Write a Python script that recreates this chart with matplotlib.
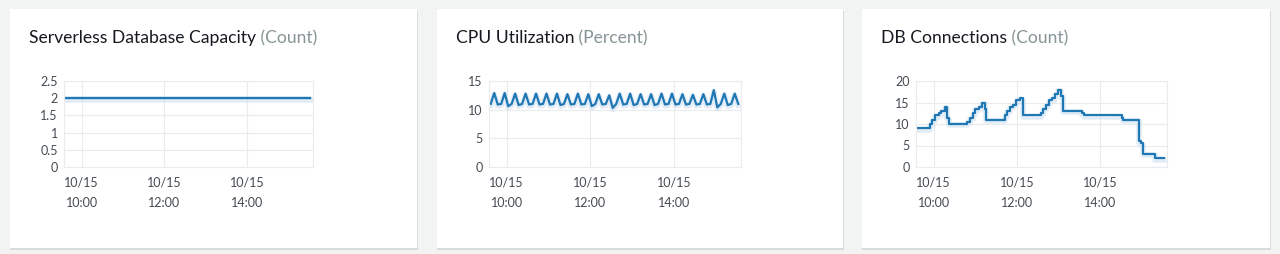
import matplotlib
matplotlib.use('Agg')
import matplotlib.pyplot as plt
import matplotlib.patheffects as pe
from matplotlib.patches import Rectangle
import pandas as pd

W, H = 1280, 254
DAY = '2020-10-15 '

# Serverless Database Capacity (Count)
capacity_times = ['09:38', '10:30', '11:30', '12:30', '13:30', '14:30', '15:32']
capacity_values = [2, 2, 2, 2, 2, 2, 2]

# CPU Utilization (Percent), 5-minute samples from 09:37
cpu_start = '09:37'
cpu_values = [
    11.0, 12.9, 10.9,  11.0, 12.9, 10.6,  11.0, 12.8, 10.8,  11.0, 12.8, 10.9,
    11.0, 12.8, 10.9,  11.0, 12.8, 10.9,  11.0, 12.8, 10.8,  11.0, 12.7, 10.9,
    11.0, 12.8, 10.9,  11.0, 12.7, 10.6,  11.0, 12.7, 10.9,  11.0, 12.5, 10.3,
    11.0, 12.8, 10.9,  11.0, 12.8, 10.8,  11.0, 12.7, 10.9,  11.0, 12.7, 10.8,
    11.0, 12.8, 10.9,  11.0, 12.8, 10.9,  11.0, 12.7, 10.9,  11.0, 12.6, 10.9,
    11.0, 12.7, 10.9,  11.0, 13.4, 10.4,  11.0, 12.8, 10.8,  11.0, 12.8, 11.0,
]

# DB Connections (Count), step series
conn_times = ['09:37', '09:54', '09:58', '10:02', '10:07', '10:11', '10:16', '10:19', '10:22',
              '10:48', '10:52', '10:56', '11:00', '11:05', '11:10', '11:14', '11:16',
              '11:42', '11:46', '11:50', '11:54', '11:58', '12:04', '12:09',
              '12:35', '12:38', '12:42', '12:46', '12:51', '12:55', '12:59', '13:04', '13:06',
              '13:33', '13:36', '14:31', '14:33', '14:56', '14:58', '15:01', '15:18', '15:31']
conn_values = [9, 10, 11, 12, 12.5, 13, 14, 11.5, 10,
               10.5, 11.5, 12.5, 13.5, 14, 15, 13.5, 11,
               12, 13, 14, 14.5, 15.5, 16, 12,
               12.5, 13.5, 14.5, 15.5, 16, 17, 18, 16.5, 13,
               12.5, 12, 11.5, 11, 6, 5.5, 3, 2, 2]

panels = [
    ('Serverless Database Capacity', '(Count)', [0, 0.5, 1, 1.5, 2, 2.5], ['0', '0.5', '1', '1.5', '2', '2.5']),
    ('CPU Utilization', '(Percent)', [0, 5, 10, 15], ['0', '5', '10', '15']),
    ('DB Connections', '(Count)', [0, 5, 10, 15, 20], ['0', '5', '10', '15', '20']),
]
xtick_times = ['10:00', '12:00', '14:00']

# card and plot boxes in pixels (left, top, right, bottom)
cards = [(10, 9, 417, 248), (437, 9, 843, 248), (862, 9, 1270, 248)]
plots = [(64, 81, 313, 167), (489, 81, 741, 167), (916, 81, 1167, 167)]

BG = '#f2f3f3'
LINE = '#1f77b4'
GRID = '#e9ebed'
TEXT = '#16191f'
UNIT = '#879596'
TICK = '#444b52'

plt.rcParams['font.family'] = ['Lato', 'DejaVu Sans']

fig = plt.figure(figsize=(W / 100, H / 100), dpi=100, facecolor=BG)


def t(s):
    return pd.Timestamp(DAY + s)


cap_x = [t(s) for s in capacity_times]
cpu_x = pd.date_range(t(cpu_start), periods=len(cpu_values), freq='5min')
conn_x = [t(s) for s in conn_times]

titles = []
for i, (card, box, (title, unit, yt, ytl)) in enumerate(zip(cards, plots, panels)):
    l, tp, r, b = card
    fig.patches.append(Rectangle((l / W, (H - b - 2) / H), (r - l + 1) / W, (b - tp) / H,
                                 transform=fig.transFigure, facecolor='#d9dcde', edgecolor='none', zorder=0))
    fig.patches.append(Rectangle((l / W, (H - b) / H), (r - l) / W, (b - tp) / H,
                                 transform=fig.transFigure, facecolor='white', edgecolor='none', zorder=1))

    txt = fig.text((l + 19) / W, (H - 43) / H, title, fontsize=12.6, color=TEXT, va='baseline', ha='left', zorder=3)
    titles.append((txt, unit))

    pl, pt, pr, pb = box
    ax = fig.add_axes([pl / W, (H - pb) / H, (pr - pl) / W, (pb - pt) / H], zorder=2)
    ax.set_facecolor('white')
    for sp in ax.spines.values():
        sp.set_color(GRID)
        sp.set_linewidth(0.8)
    ax.grid(True, color=GRID, linewidth=0.8)
    ax.set_axisbelow(True)
    ax.tick_params(length=0, labelsize=9, colors=TICK)
    ax.tick_params(axis='y', pad=4.5)
    ax.tick_params(axis='x', pad=7)
    ax.set_yticks(yt)
    ax.set_yticklabels(ytl)
    ax.set_ylim(yt[0], yt[-1])
    ax.set_xlim(t('09:34:30'), t('15:36'))
    ax.set_xticks([t(s) for s in xtick_times])
    ax.set_xticklabels(['10/15\n' + s for s in xtick_times])
    for lab in ax.get_xticklabels():
        lab.set_linespacing(1.85)

    shadow = [pe.Stroke(offset=(0, -1), linewidth=4, foreground='#cfe0f0', alpha=0.6), pe.Normal()]
    if i == 0:
        ax.plot(cap_x, capacity_values, color=LINE, lw=1.7, path_effects=shadow)
    elif i == 1:
        ax.plot(cpu_x, cpu_values, color=LINE, lw=1.6, path_effects=shadow)
    else:
        ax.step(conn_x, conn_values, where='post', color=LINE, lw=1.6, path_effects=shadow)

# unit suffix right after each title
fig.canvas.draw()
for txt, unit in titles:
    bb = txt.get_window_extent()
    fig.text(bb.x1 / W, (H - 43) / H, ' ' + unit, fontsize=12.6, color=UNIT, va='baseline', ha='left', zorder=3)

fig.savefig('out.png', dpi=100, facecolor=BG)
